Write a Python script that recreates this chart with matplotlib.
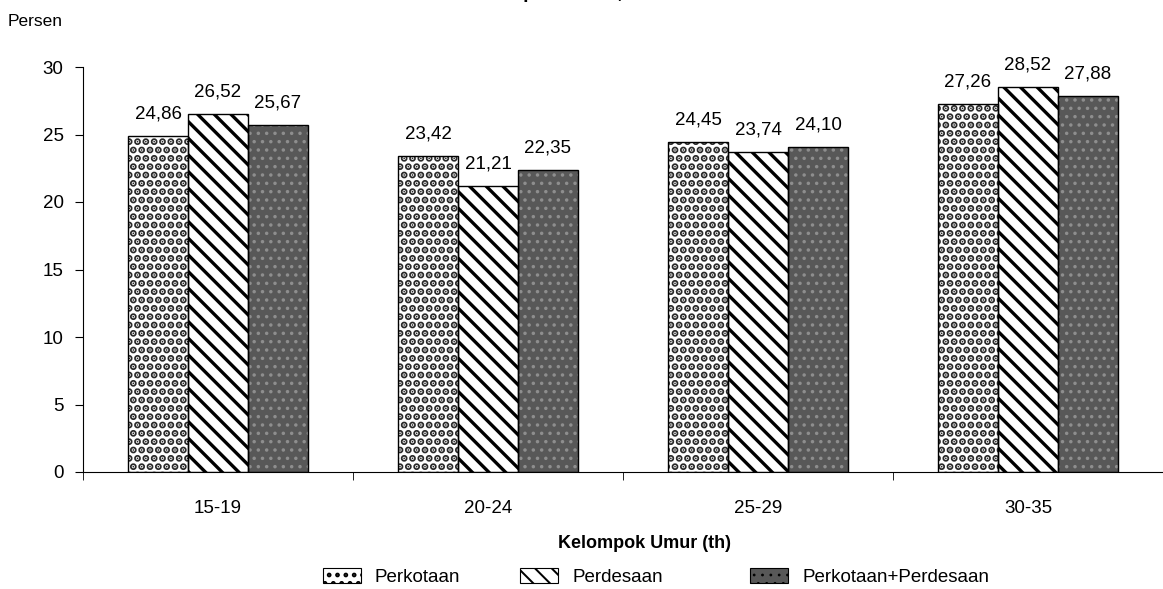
import matplotlib
matplotlib.use("Agg")
import matplotlib.pyplot as plt
import numpy as np
from matplotlib.patches import Patch

plt.rcParams['font.family'] = ['Liberation Sans', 'DejaVu Sans']

categories = ["15-19", "20-24", "25-29", "30-35"]
series_names = ["Perkotaan", "Perdesaan", "Perkotaan+Perdesaan"]
perkotaan = [24.86, 23.42, 24.45, 27.26]
perdesaan = [26.52, 21.21, 23.74, 28.52]
gabungan = [25.67, 22.35, 24.10, 27.88]
yticks = [0, 5, 10, 15, 20, 25, 30]

W, H = 1163, 589
fig = plt.figure(figsize=(W / 100, H / 100), dpi=100)
ax = fig.add_axes([83 / W, 1 - 472 / H, 1080 / W, (472 - 67) / H])

x = np.arange(len(categories))
bw = 0.222
FS = 13.5

styles = [
    dict(facecolor="white", hatch_color="#2a2a2a", hatch="..", lw_h=3.6),
    dict(facecolor="white", hatch_color="black", hatch="\\\\", lw_h=2.4),
    dict(facecolor="#585858", hatch_color="#8e8e8e", hatch="..", lw_h=1.3),
]
data = [perkotaan, perdesaan, gabungan]
offsets = [-bw, 0, bw]

for vals, off, st in zip(data, offsets, styles):
    plt.rcParams['hatch.linewidth'] = st["lw_h"]
    ax.bar(x + off, vals, bw, color=st["facecolor"], edgecolor=st["hatch_color"],
           hatch=st["hatch"], linewidth=0, zorder=2)
    ax.bar(x + off, vals, bw, facecolor="none", edgecolor="black", linewidth=1.0, zorder=3)
    for xi, v in zip(x + off, vals):
        ax.text(xi, v + 1.0, f"{v:.2f}".replace(".", ","), ha="center", va="bottom",
                fontsize=FS, color="black")

ax.set_xlim(-0.5, 3.5)
ax.set_ylim(0, 30)
for s in ["top", "right"]:
    ax.spines[s].set_visible(False)
ax.spines["left"].set_color("black")
ax.spines["bottom"].set_color("black")
ax.set_yticks(yticks)
ax.set_yticklabels([str(t) for t in yticks], fontsize=FS)
ax.tick_params(axis="y", direction="out", length=6, pad=8)
ax.set_xticks(x)
ax.set_xticklabels(categories, fontsize=FS)
ax.tick_params(axis="x", which="major", length=0, pad=20)
ax.set_xticks(np.arange(-0.5, 4.0, 1.0), minor=True)
ax.tick_params(axis="x", which="minor", direction="out", length=6)

fig.text(8 / W, 1 - 22 / H, "Persen", fontsize=12.5, ha="left", va="center")
fig.text(645 / W, 1 - 543 / H, "Kelompok Umur (th)", fontsize=13, fontweight="bold",
         ha="center", va="center")
fig.text(600 / W, 1 + 6 / H, "dan Tipe Daerah, Tahun 2013", fontsize=14, fontweight="bold",
         ha="center", va="center")

legend_pos = [(323, 577), (520, 577), (750, 577)]
hpx = FS * 100 / 72
for name, st, (lx, ly) in zip(series_names, styles, legend_pos):
    plt.rcParams['hatch.linewidth'] = st["lw_h"] * 0.6
    h = Patch(facecolor=st["facecolor"], edgecolor="black", hatch=st["hatch"], linewidth=0.8)
    fig.legend([h], [name], loc="center left", bbox_to_anchor=(lx / W, 1 - ly / H),
               frameon=False, fontsize=FS, handlelength=38 / hpx, handleheight=16 / hpx,
               handletextpad=14 / hpx, borderaxespad=0, borderpad=0)

fig.savefig("out.png", dpi=100)
